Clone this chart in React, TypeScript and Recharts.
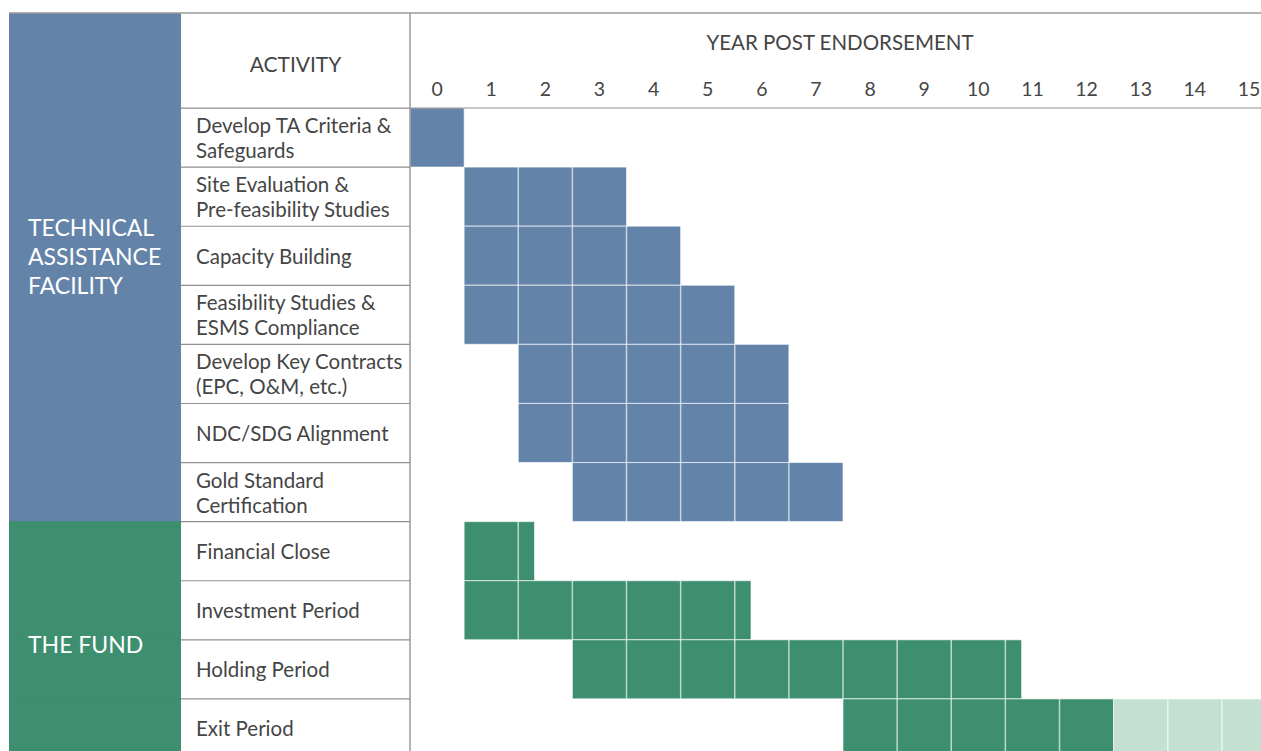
import React from "react";
import { Bar, BarChart, XAxis, YAxis } from "recharts";

const activities = [
  "Develop TA Criteria &\nSafeguards",
  "Site Evaluation &\nPre-feasibility Studies",
  "Capacity Building",
  "Feasibility Studies &\nESMS Compliance",
  "Develop Key Contracts\n(EPC, O&M, etc.)",
  "NDC/SDG Alignment",
  "Gold Standard\nCertification",
  "Financial Close",
  "Investment Period",
  "Holding Period",
  "Exit Period",
];
const groups = ["ta", "ta", "ta", "ta", "ta", "ta", "ta", "fund", "fund", "fund", "fund"];
const startYears = [0, 1, 1, 1, 2, 2, 3, 1, 1, 3, 8];
const durations = [1, 3, 4, 5, 5, 5, 5, 1.3, 5.3, 8.3, 5];
const extensions = [0, 0, 0, 0, 0, 0, 0, 0, 0, 0, 3];
const years = [0, 1, 2, 3, 4, 5, 6, 7, 8, 9, 10, 11, 12, 13, 14, 15];

const groupLabels: Record<string, string[]> = {
  ta: ["TECHNICAL", "ASSISTANCE", "FACILITY"],
  fund: ["THE FUND"],
};
// label centre, relative to the last row of the group
const groupLabelDy: Record<string, number> = { ta: -236.5, fund: -84.5 };
const groupColors: Record<string, string> = { ta: "#6383a9", fund: "#3d8f6f" };
const extColor = "#c4e0d2";

const data = activities.map((name, i) => ({
  name,
  group: groups[i],
  start: startYears[i],
  dur: durations[i],
  ext: extensions[i],
}));

const FONT = "Lato, 'Open Sans', sans-serif";
const TEXT = "#454545";
const RULE = "#8f8f8f";
const ROW_H = 59;
const LEFT = 9;
const BLOCK_W = 172;
const AXIS_W = 401;

const CellBar = (props: any) => {
  const { x, y, width, height, payload, kind } = props;
  if (!width || width <= 0) return null;
  const start = kind === "ext" ? payload.start + payload.dur : payload.start;
  const dur = kind === "ext" ? payload.ext : payload.dur;
  const ppy = width / dur;
  const fill = kind === "ext" ? extColor : groupColors[payload.group];
  const lines = [];
  for (let k = Math.floor(start) + 1; k < start + dur; k++) {
    const lx = x + (k - start) * ppy;
    lines.push(
      <line key={k} x1={lx} x2={lx} y1={y} y2={y + height} stroke="rgba(255,255,255,0.65)" strokeWidth={1.5} />
    );
  }
  return (
    <g>
      <rect x={x} y={y} width={width} height={height} fill={fill} stroke="rgba(255,255,255,0.6)" strokeWidth={1} />
      {lines}
    </g>
  );
};

const ActivityTick = (props: any) => {
  const { y, payload } = props;
  const i = activities.indexOf(payload.value);
  const g = groups[i];
  const top = y - ROW_H / 2;
  const rows = String(payload.value).split("\n");
  const actX = LEFT + BLOCK_W;
  const isLast = i === groups.length - 1 || groups[i + 1] !== g;
  const label = groupLabels[g];
  return (
    <g>
      <rect x={LEFT} y={top - 0.5} width={BLOCK_W} height={ROW_H + 1} fill={groupColors[g]} />
      <line x1={actX} x2={LEFT + AXIS_W} y1={top} y2={top} stroke={RULE} strokeWidth={1.2} />
      {rows.map((r, k) => (
        <text
          key={k}
          x={actX + 15}
          y={y + (k - (rows.length - 1) / 2) * 25}
          dominantBaseline="central"
          fontFamily={FONT}
          fontSize={20.5}
          fill={TEXT}
        >
          {r}
        </text>
      ))}
      {isLast &&
        label.map((t, k) => (
          <text
            key={"g" + k}
            x={LEFT + 19}
            y={y + groupLabelDy[g] + (k - (label.length - 1) / 2) * 29}
            dominantBaseline="central"
            fontFamily={FONT}
            fontSize={23}
            fill="#ffffff"
          >
            {t}
          </text>
        ))}
    </g>
  );
};

const YearTick = (props: any) => {
  const { x, y, payload } = props;
  return (
    <text x={x} y={y - 18} textAnchor="middle" dominantBaseline="central" fontFamily={FONT} fontSize={19.5} fill={TEXT}>
      {Math.floor(payload.value)}
    </text>
  );
};

const Header = (props: any) => {
  const { x, y, width, height } = props.viewBox;
  const actX = LEFT + BLOCK_W;
  return (
    <g>
      <rect x={LEFT} y={y} width={BLOCK_W} height={height + 1} fill={groupColors.ta} />
      <line x1={LEFT} x2={x + width} y1={y} y2={y} stroke="#9a9a9a" strokeWidth={1.5} />
      <line x1={x} x2={x} y1={y} y2={y + height} stroke="#9a9a9a" strokeWidth={1.5} />
      <text x={(actX + x) / 2} y={y + 50} textAnchor="middle" dominantBaseline="central" fontFamily={FONT} fontSize={21} fill={TEXT}>
        ACTIVITY
      </text>
      <text x={x + width / 2 - 3} y={y + 29} textAnchor="middle" dominantBaseline="central" fontFamily={FONT} fontSize={20.5} fill={TEXT}>
        YEAR POST ENDORSEMENT
      </text>
    </g>
  );
};

const yearTicks = years.map((y) => y + 0.5);

export default function App() {
  return (
    <div style={{ position: "fixed", top: 0, left: 0, width: 1261, height: 751, overflow: "hidden", background: "#fff" }}>
      <BarChart
        width={1276}
        height={758}
        data={data}
        layout="vertical"
        barCategoryGap={0}
        margin={{ top: 13, right: 0, bottom: 0, left: LEFT }}
      >
        <XAxis
          type="number"
          orientation="top"
          domain={[0, 16]}
          ticks={yearTicks}
          allowDataOverflow
          height={95}
          tickSize={0}
          tickLine={false}
          tick={<YearTick />}
          stroke={RULE}
          label={<Header />}
        />
        <YAxis
          type="category"
          dataKey="name"
          width={AXIS_W}
          interval={0}
          tickLine={false}
          tickSize={0}
          tick={<ActivityTick />}
          stroke="#9a9a9a"
          strokeWidth={1.5}
        />
        <Bar dataKey="start" stackId="a" fill="transparent" isAnimationActive={false} />
        <Bar dataKey="dur" stackId="a" isAnimationActive={false} shape={(p: any) => <CellBar {...p} kind="main" />} />
        <Bar dataKey="ext" stackId="a" isAnimationActive={false} shape={(p: any) => <CellBar {...p} kind="ext" />} />
      </BarChart>
    </div>
  );
}
